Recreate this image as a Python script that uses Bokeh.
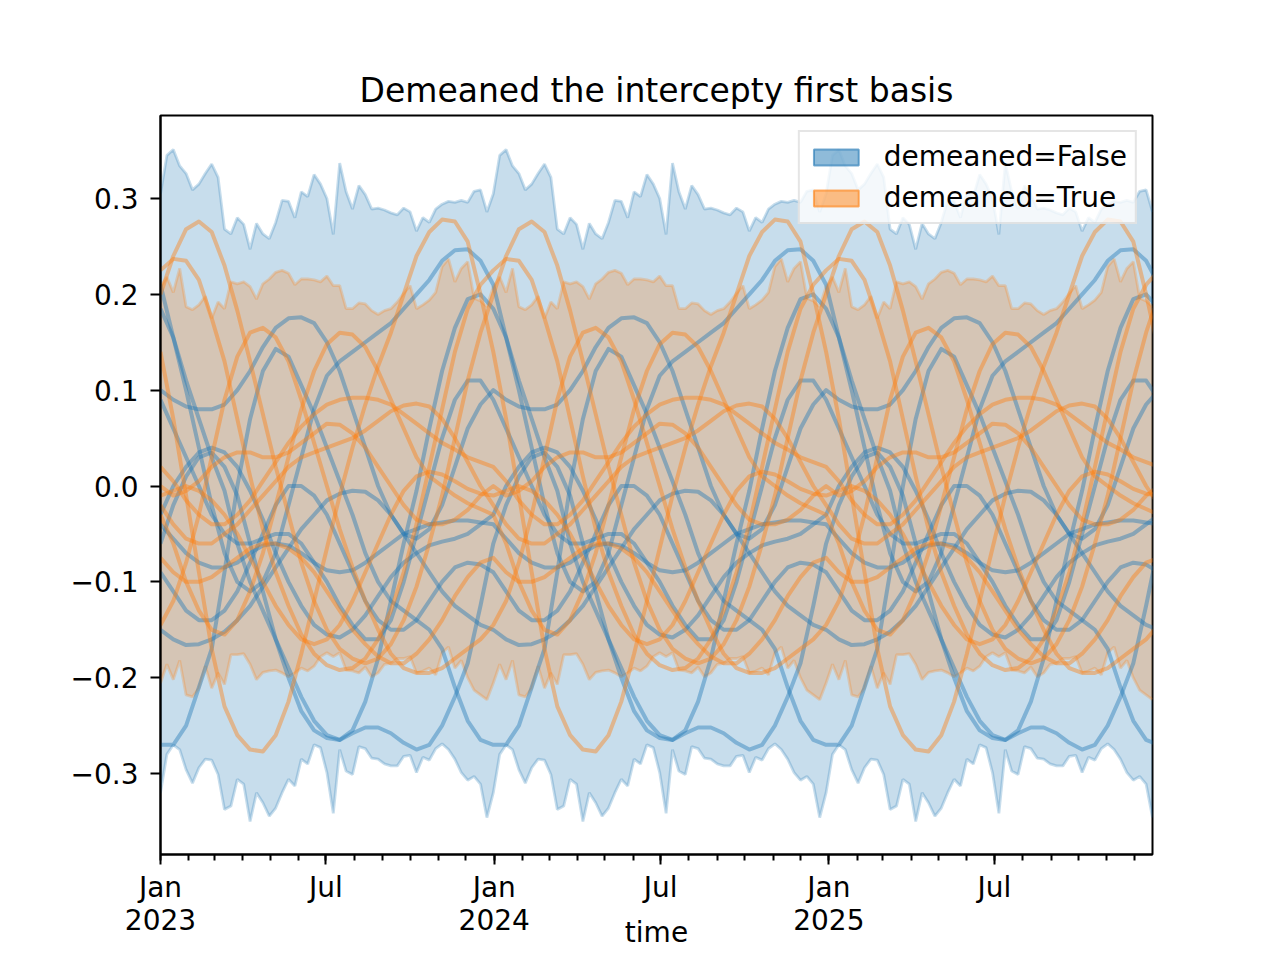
import datetime as dt
from bokeh.plotting import figure
from bokeh.models import (ColumnDataSource, Range1d, FixedTicker, CustomJSTickFormatter,
                          Legend, LegendItem)
from bokeh.embed import file_html
from bokeh.resources import INLINE

# ---------------- data (one 52-week cycle, repeated each year) ----------------
start_date = "2023-01-01"
n_weeks = 156

blue_upper = [0.305, 0.345, 0.351, 0.334, 0.326, 0.309, 0.315, 0.326, 0.336, 0.322,
              0.268, 0.263, 0.280, 0.273, 0.247, 0.274, 0.263, 0.258, 0.275, 0.298,
              0.297, 0.280, 0.307, 0.302, 0.325, 0.315, 0.300, 0.2625, 0.337, 0.307,
              0.289, 0.3135, 0.304, 0.289, 0.290, 0.288, 0.285, 0.283, 0.290, 0.286,
              0.266, 0.280, 0.275, 0.289, 0.294, 0.297, 0.296, 0.298, 0.296, 0.3075,
              0.309, 0.286]
blue_lower = [-0.320, -0.280, -0.270, -0.275, -0.296, -0.310, -0.294, -0.285, -0.286, -0.301,
              -0.3375, -0.334, -0.306, -0.311, -0.350, -0.320, -0.3305, -0.3445, -0.336, -0.320,
              -0.306, -0.313, -0.285, -0.290, -0.270, -0.273, -0.299, -0.3415, -0.275, -0.2975,
              -0.301, -0.272, -0.274, -0.284, -0.285, -0.290, -0.292, -0.292, -0.282, -0.281,
              -0.299, -0.283, -0.286, -0.274, -0.269, -0.275, -0.285, -0.299, -0.307, -0.303,
              -0.311, -0.346]
orange_upper = [0.208, 0.218, 0.202, 0.227, 0.187, 0.184, 0.189, 0.198, 0.175, 0.192,
                0.185, 0.213, 0.211, 0.213, 0.208, 0.195, 0.211, 0.216, 0.223, 0.225,
                0.222, 0.210, 0.216, 0.216, 0.215, 0.213, 0.219, 0.209, 0.209, 0.185,
                0.185, 0.191, 0.190, 0.183, 0.179, 0.183, 0.185, 0.192, 0.201, 0.209,
                0.185, 0.189, 0.194, 0.202, 0.229, 0.237, 0.213, 0.227, 0.234, 0.196,
                0.193, 0.187]
orange_lower = [-0.2055, -0.186, -0.202, -0.182, -0.218, -0.220, -0.211, -0.188, -0.211, -0.195,
                -0.207, -0.176, -0.176, -0.175, -0.186, -0.202, -0.1945, -0.193, -0.192, -0.195,
                -0.199, -0.195, -0.190, -0.193, -0.188, -0.178, -0.174, -0.178, -0.174, -0.192,
                -0.193, -0.195, -0.189, -0.199, -0.195, -0.186, -0.185, -0.180, -0.180, -0.178,
                -0.195, -0.193, -0.190, -0.197, -0.174, -0.168, -0.190, -0.182, -0.200, -0.213,
                -0.218, -0.223]

# sample curves, one value every two weeks over one yearly cycle (26 values)
blue_1 = [0.185, 0.155, 0.11, 0.07, 0.03, -0.005, -0.06, -0.10, -0.13, -0.16, -0.19, -0.22, -0.245,
          -0.26, -0.265, -0.255, -0.225, -0.18, -0.12, -0.06, -0.005, 0.06, 0.12, 0.165, 0.195, 0.20]
blue_2 = [0.21, 0.155, 0.10, 0.04, -0.02, -0.07, -0.10, -0.11, -0.10, -0.07, -0.02, 0.03, 0.08,
          0.115, 0.13, 0.14, 0.15, 0.16, 0.17, 0.185, 0.20, 0.215, 0.235, 0.246, 0.247, 0.235]
blue_3 = [-0.27, -0.27, -0.25, -0.21, -0.17, -0.09, 0.0, 0.07, 0.12, 0.143, 0.135, 0.105, 0.075,
          0.04, 0.005, -0.03, -0.07, -0.10, -0.12, -0.13, -0.14, -0.15, -0.17, -0.21, -0.245, -0.265]
blue_4 = [-0.06, -0.02, 0.01, 0.03, 0.035, 0.02, -0.01, -0.06, -0.11, -0.16, -0.20, -0.235, -0.255,
          -0.263, -0.265, -0.258, -0.252, -0.252, -0.258, -0.268, -0.275, -0.27, -0.25, -0.22, -0.185, -0.125]
blue_5 = [0.10, 0.09, 0.083, 0.08, 0.08, 0.085, 0.10, 0.12, 0.145, 0.165, 0.175, 0.176, 0.17,
          0.15, 0.12, 0.08, 0.04, 0.0, -0.03, -0.05, -0.055, -0.045, -0.02, 0.02, 0.06, 0.085]
blue_6 = [0.09, 0.06, 0.03, 0.0, -0.03, -0.05, -0.06, -0.06, -0.055, -0.05, -0.05, -0.06, -0.08,
          -0.10, -0.125, -0.145, -0.16, -0.16, -0.14, -0.10, -0.05, 0.0, 0.05, 0.09, 0.11, 0.11]
blue_7 = [-0.15, -0.16, -0.166, -0.165, -0.16, -0.152, -0.14, -0.125, -0.105, -0.085, -0.065, -0.045, -0.03,
          -0.015, -0.008, -0.005, -0.006, -0.015, -0.03, -0.05, -0.07, -0.09, -0.11, -0.125, -0.135, -0.145]
blue_8 = [-0.04, -0.055, -0.07, -0.08, -0.085, -0.085, -0.08, -0.07, -0.062, -0.06, -0.062, -0.07, -0.08,
          -0.088, -0.09, -0.088, -0.08, -0.07, -0.06, -0.05, -0.045, -0.04, -0.038, -0.036, -0.036, -0.038]
blue_9 = [-0.03, 0.0, 0.02, 0.035, 0.04, 0.035, 0.02, -0.005, -0.035, -0.07, -0.10, -0.125, -0.145,
          -0.155, -0.158, -0.15, -0.135, -0.115, -0.095, -0.08, -0.07, -0.062, -0.058, -0.055, -0.05, -0.04]
blue_10 = [-0.09, -0.11, -0.13, -0.14, -0.14, -0.13, -0.11, -0.08, -0.05, -0.02, 0.0, 0.0, -0.01,
           -0.03, -0.06, -0.09, -0.12, -0.14, -0.15, -0.15, -0.14, -0.12, -0.10, -0.085, -0.08, -0.082]

orange_1 = [0.20, 0.24, 0.268, 0.276, 0.265, 0.23, 0.183, 0.13, 0.075, 0.02, -0.03, -0.08, -0.12,
            -0.15, -0.17, -0.18, -0.185, -0.18, -0.165, -0.14, -0.105, -0.06, -0.01, 0.05, 0.11, 0.16]
orange_2 = [0.14, 0.07, -0.01, -0.09, -0.17, -0.23, -0.26, -0.275, -0.277, -0.26, -0.225, -0.175, -0.12,
            -0.065, -0.01, 0.04, 0.085, 0.125, 0.16, 0.20, 0.24, 0.265, 0.278, 0.276, 0.255, 0.20]
orange_3 = [0.225, 0.237, 0.235, 0.215, 0.175, 0.13, 0.07, 0.01, -0.045, -0.09, -0.125, -0.155, -0.175,
            -0.187, -0.192, -0.19, -0.18, -0.16, -0.13, -0.09, -0.04, 0.02, 0.08, 0.14, 0.185, 0.21]
orange_4 = [-0.145, -0.12, -0.08, -0.03, 0.03, 0.09, 0.135, 0.16, 0.165, 0.155, 0.13, 0.09, 0.045,
            0.0, -0.045, -0.085, -0.12, -0.15, -0.175, -0.19, -0.195, -0.195, -0.19, -0.18, -0.17, -0.16]
orange_5 = [-0.03, -0.06, -0.10, -0.13, -0.15, -0.155, -0.14, -0.11, -0.07, -0.02, 0.03, 0.08, 0.12,
            0.148, 0.16, 0.158, 0.145, 0.12, 0.09, 0.06, 0.03, 0.01, 0.0, -0.01, -0.018, -0.024]
orange_6 = [0.02, 0.005, -0.015, -0.03, -0.04, -0.04, -0.03, -0.015, 0.005, 0.025, 0.045, 0.062, 0.075,
            0.085, 0.09, 0.092, 0.092, 0.09, 0.085, 0.075, 0.065, 0.055, 0.045, 0.038, 0.03, 0.025]
orange_7 = [-0.02, -0.04, -0.055, -0.06, -0.06, -0.05, -0.04, -0.025, -0.01, 0.005, 0.02, 0.03, 0.035,
            0.04, 0.045, 0.05, 0.058, 0.068, 0.078, 0.084, 0.086, 0.083, 0.07, 0.05, 0.025, 0.0]
orange_8 = [0.0, -0.01, -0.005, 0.005, 0.02, 0.03, 0.035, 0.035, 0.03, 0.03, 0.035, 0.045, 0.055,
            0.065, 0.064, 0.055, 0.04, 0.02, 0.0, -0.02, -0.035, -0.04, -0.04, -0.035, -0.025, -0.01]
orange_9 = [-0.075, -0.09, -0.10, -0.10, -0.095, -0.085, -0.075, -0.065, -0.06, -0.06, -0.065, -0.075, -0.09,
            -0.11, -0.13, -0.15, -0.165, -0.178, -0.185, -0.185, -0.175, -0.16, -0.14, -0.115, -0.095, -0.08]
orange_10 = [-0.01, -0.005, 0.0, -0.005, -0.015, -0.03, -0.05, -0.075, -0.10, -0.125, -0.145, -0.16, -0.165,
             -0.16, -0.145, -0.12, -0.09, -0.06, -0.03, -0.005, 0.01, 0.015, 0.012, 0.005, -0.003, -0.008]

blue_lines = [blue_1, blue_2, blue_3, blue_4, blue_5, blue_6, blue_7, blue_8, blue_9, blue_10]
orange_lines = [orange_1, orange_2, orange_3, orange_4, orange_5, orange_6, orange_7, orange_8,
                orange_9, orange_10]

series_labels = ["demeaned=False", "demeaned=True"]
title_text = "Demeaned the intercepty first basis"
x_label = "time"

x_tick_dates = ["2023-01-01", "2023-07-01", "2024-01-01", "2024-07-01", "2025-01-01", "2025-07-01"]
x_tick_labels = ["Jan\n2023", "Jul", "Jan\n2024", "Jul", "Jan\n2025", "Jul"]
y_ticks = [-0.3, -0.2, -0.1, 0.0, 0.1, 0.2, 0.3]
y_tick_labels = ["\u22120.3", "\u22120.2", "\u22120.1", "0.0", "0.1", "0.2", "0.3"]

# ---------------- build series ----------------
START = dt.datetime.fromisoformat(start_date)
week_dates = [START + dt.timedelta(weeks=k) for k in range(n_weeks)]
n_line = 79
line_dates = [START + dt.timedelta(days=14 * i) for i in range(n_line)]


def tile(vals, n):
    return [vals[i % len(vals)] for i in range(n)]


def ms(d):
    return (d - dt.datetime(1970, 1, 1)).total_seconds() * 1000.0


C0 = "#1f77b4"
C1 = "#ff7f0e"
FONT = "DejaVu Sans"

y_lo, y_hi = -0.3845, 0.3866
x_lo, x_hi = week_dates[0], week_dates[-1]

p = figure(width=1272, height=952, x_axis_type="datetime",
           output_backend="svg", toolbar_location=None,
           x_range=Range1d(x_lo, x_hi), y_range=Range1d(y_lo, y_hi),
           min_border_left=160, min_border_right=120,
           min_border_top=115, min_border_bottom=98)
p.xgrid.visible = False
p.ygrid.visible = False
p.background_fill_color = "white"
p.border_fill_color = "white"
p.outline_line_color = "black"
p.outline_line_width = 2
p.outline_line_alpha = 1.0

for lo, hi, col in [(blue_lower, blue_upper, C0), (orange_lower, orange_upper, C1)]:
    src = ColumnDataSource(dict(x=week_dates, lo=tile(lo, n_weeks), hi=tile(hi, n_weeks)))
    p.varea(x="x", y1="lo", y2="hi", source=src, fill_color=col, fill_alpha=0.25)
    p.line("x", "hi", source=src, line_color=col, line_alpha=0.25, line_width=2.8)
    p.line("x", "lo", source=src, line_color=col, line_alpha=0.25, line_width=2.8)

for vals in blue_lines:
    p.line(line_dates, tile(vals, n_line), line_color=C0, line_alpha=0.42, line_width=4,
           line_join="round")
for vals in orange_lines:
    p.line(line_dates, tile(vals, n_line), line_color=C1, line_alpha=0.42, line_width=4,
           line_join="round")

# legend proxies: zero-size patches placed outside the visible y range
proxy_x = [x_lo]
proxy_y = [y_hi + 1.0]
r_b = p.quad(left=proxy_x, right=proxy_x, top=proxy_y, bottom=proxy_y, fill_color=C0,
             fill_alpha=0.5, line_color=C0, line_alpha=0.6, line_width=2)
r_o = p.quad(left=proxy_x, right=proxy_x, top=proxy_y, bottom=proxy_y, fill_color=C1,
             fill_alpha=0.5, line_color=C1, line_alpha=0.6, line_width=2)
legend = Legend(items=[LegendItem(label=series_labels[0], renderers=[r_b]),
                       LegendItem(label=series_labels[1], renderers=[r_o])],
                location="top_right")
legend.label_text_font = FONT
legend.label_text_font_size = "28px"
legend.label_text_color = "black"
legend.glyph_width = 56
legend.glyph_height = 20
legend.label_height = 24
legend.label_standoff = 20
legend.padding = 8
legend.spacing = 8
legend.margin = 15
legend.border_line_color = "#cccccc"
legend.border_line_width = 2
legend.background_fill_alpha = 0.8
p.add_layout(legend)

# axes
x_tick_ms = [ms(dt.datetime.fromisoformat(d)) for d in x_tick_dates]
minor_ms = []
for yr in (2023, 2024, 2025):
    for mo in range(1, 13):
        minor_ms.append(ms(dt.datetime(yr, mo, 1)))
p.xaxis.ticker = FixedTicker(ticks=x_tick_ms, minor_ticks=minor_ms)
p.xaxis.formatter = CustomJSTickFormatter(
    args=dict(tvals=x_tick_ms, tlabs=x_tick_labels),
    code="const i = tvals.findIndex(t => Math.abs(t - tick) < 1000); return i >= 0 ? tlabs[i] : '';")
p.yaxis.ticker = FixedTicker(ticks=y_ticks)
p.yaxis.formatter = CustomJSTickFormatter(
    args=dict(tvals=y_ticks, tlabs=y_tick_labels),
    code="const i = tvals.findIndex(t => Math.abs(t - tick) < 1e-6); return i >= 0 ? tlabs[i] : '';")
p.yaxis.minor_tick_line_color = None
p.axis.major_label_text_font = FONT
p.axis.major_label_text_font_size = "28px"
p.axis.major_label_text_color = "black"
p.axis.major_tick_out = 10
p.axis.major_tick_in = 0
p.axis.major_tick_line_width = 2
p.axis.minor_tick_out = 6
p.axis.minor_tick_in = 0
p.axis.minor_tick_line_width = 2
p.axis.axis_line_width = 2
p.xaxis.major_label_standoff = 6
p.yaxis.major_label_standoff = 12
p.xaxis.major_label_text_line_height = 1.0

# x-axis title, pulled up so it stays inside the canvas
p.xaxis.axis_label = x_label
p.xaxis.axis_label_text_font = FONT
p.xaxis.axis_label_text_font_size = "28px"
p.xaxis.axis_label_text_font_style = "normal"
p.xaxis.axis_label_text_color = "black"
p.xaxis.axis_label_standoff = -24

p.title.text = title_text
p.title.text_font = FONT
p.title.text_font_size = "33px"
p.title.text_font_style = "normal"
p.title.text_color = "black"
p.title.align = "center"
p.title.standoff = 11

open("out.html", "w").write(file_html(p, INLINE))
